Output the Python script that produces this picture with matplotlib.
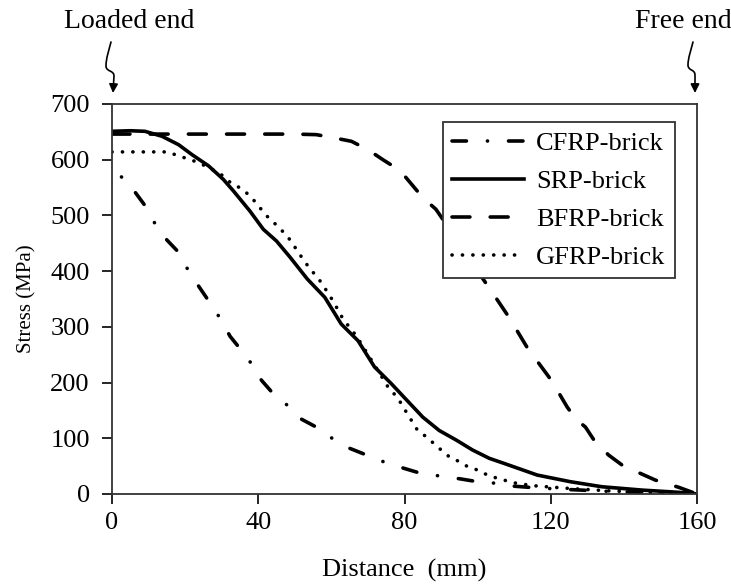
import matplotlib
matplotlib.use("Agg")
import matplotlib.pyplot as plt
from matplotlib.path import Path
from matplotlib.patches import FancyArrowPatch
from matplotlib.lines import Line2D

plt.rcParams['font.family'] = ['Liberation Serif', 'DejaVu Serif']
plt.rcParams['lines.scale_dashes'] = False

# distance along bond (mm) and stress (MPa)
cfrp_x = [0, 2.6, 6.4, 9.1, 11.7, 15, 18.2, 20.8, 23.9, 26.4, 29.5, 32.3, 35, 37.9,
          40.9, 43.7, 48, 51.9, 55.9, 60.2, 65, 69.6, 74.6, 79.9, 84.5, 90, 95.4,
          100, 105.5, 110, 116, 125, 135, 145, 160]
cfrp_y = [588, 569, 541, 517, 486, 456, 434, 402, 371, 347, 316, 283, 261, 236,
          204, 183, 159, 134, 120, 100, 82, 70, 57, 46, 37, 32, 27,
          22, 19, 14, 11, 8, 5, 3, 0]

srp_x = [0, 5, 9, 13.7, 18.2, 21.9, 26.4, 30.4, 33.2, 37.7, 41.4, 45, 48.7, 53.4,
         58.2, 62.7, 67.3, 71.8, 76.4, 80.4, 85, 89.5, 94.1, 98.6, 103.2, 107.2,
         116.3, 125.4, 134, 145, 155, 160]
srp_y = [651, 652, 651, 642, 627, 609, 589, 565, 544, 508, 475, 454, 425, 386,
         353, 305, 275, 228, 198, 170, 138, 114, 97, 79, 64, 55,
         34, 22, 13, 7, 3, 0]

bfrp_x = [0, 10, 20, 30, 40, 50, 55.9, 60.9, 65.5, 70, 74.1, 78.2, 80.4, 85, 88.6,
          95, 100, 104.3, 108.6, 110.8, 114, 116.8, 119.5, 121.8, 124.5, 126.8,
          129.5, 131.8, 135.8, 139.5, 144.5, 148.6, 155, 160]
bfrp_y = [646, 646, 646, 646, 646, 646, 645, 639, 633, 618, 600, 583, 568, 532, 511,
          450, 400, 359, 317, 293, 258, 234, 210, 186, 156, 135,
          120, 97, 70, 52, 37, 25, 12, 0]

gfrp_x = [0, 5, 10, 15, 17.8, 20.5, 23.2, 26.8, 30.4, 32.7, 35.2, 37.6, 39.6, 41.4,
          43.2, 45.3, 47.3, 49.1, 50.7, 53.5, 57.2, 60.4, 63.2, 66.8, 72.7, 75.5,
          78.2, 80.4, 83.6, 85.9, 89.5, 92.2, 95, 97.3, 100, 102.7, 105.5, 110,
          115, 125, 135, 145, 160]
gfrp_y = [614, 614, 614, 614, 608, 602, 596, 585, 571, 557, 549, 536, 521, 506,
          493, 481, 467, 453, 436, 410, 380, 347, 314, 284, 222, 192,
          172, 148, 114, 103, 82, 67, 58, 49, 43, 34, 28, 20,
          15, 10, 6, 3, 0]

labels = ['CFRP-brick', 'SRP-brick', 'BFRP-brick', 'GFRP-brick']
x_ticks = [0, 40, 80, 120, 160]
y_ticks = [0, 100, 200, 300, 400, 500, 600, 700]

W, H = 731, 588
fig = plt.figure(figsize=(W / 100, H / 100), dpi=100)
ax = fig.add_axes([112 / W, 1 - 494 / H, 585 / W, 390 / H])

lw = 2.6
dashdot = (10.4, 15.1, 0.1, 15.1)
dash = (12.9, 14.6)
dot = (0.1, 7.4)

ax.plot(cfrp_x, cfrp_y, color='k', lw=lw, dash_capstyle='round',
        linestyle=(15.3, dashdot))
ax.plot(srp_x, srp_y, color='k', lw=lw, solid_capstyle='round')
ax.plot(bfrp_x, bfrp_y, color='k', lw=lw, dash_capstyle='round', linestyle=(0, dash))
ax.plot(gfrp_x, gfrp_y, color='k', lw=lw, dash_capstyle='round', linestyle=(0, dot))

ax.set_xlim(0, 160)
ax.set_ylim(0, 700)
ax.set_xticks(x_ticks)
ax.set_yticks(y_ticks)
ax.tick_params(direction='out', length=7, width=1.2, labelsize=19, colors='k')
ax.tick_params(axis='y', pad=9)
ax.tick_params(axis='x', pad=6)
for s in ax.spines.values():
    s.set_linewidth(1.3)
    s.set_color('#333333')

ax.set_xlabel('Distance  (mm)', fontsize=19, labelpad=18)
ax.set_ylabel('Stress (MPa)', fontsize=15, labelpad=10)

handles = [Line2D([], [], color='k', lw=lw, dash_capstyle='round', linestyle=(0, dashdot)),
           Line2D([], [], color='k', lw=lw),
           Line2D([], [], color='k', lw=lw, dash_capstyle='round', linestyle=(0, dash)),
           Line2D([], [], color='k', lw=lw, dash_capstyle='round', linestyle=(0, dot))]
leg = ax.legend(handles, labels, loc='upper right', bbox_to_anchor=(0.962, 0.953),
                borderaxespad=0, fontsize=19, handlelength=2.75, handletextpad=0.45,
                labelspacing=0.55, borderpad=0.35, fancybox=False, framealpha=1,
                edgecolor='#333333')
leg.get_frame().set_linewidth(1.3)

# end annotations with squiggly arrows (figure pixels, y measured from top)
def squiggle(pts):
    verts = [(x / W, 1 - y / H) for x, y in pts]
    codes = [Path.MOVETO, Path.CURVE4, Path.CURVE4, Path.CURVE4,
             Path.CURVE4, Path.CURVE4, Path.CURVE4, Path.LINETO]
    arr = FancyArrowPatch(path=Path(verts, codes), arrowstyle='-|>', mutation_scale=13,
                          color='k', lw=1.2, transform=fig.transFigure)
    fig.patches.append(arr)

squiggle([(111, 42), (109, 50), (106, 58), (106, 66),
          (106, 72), (114, 70), (114, 76), (113, 93)])
squiggle([(693, 42), (691, 50), (688, 58), (688, 65),
          (688, 71), (695, 69), (695, 75), (695, 93)])

fig.text(129 / W, 1 - 22 / H, 'Loaded end', fontsize=20, ha='center', va='center')
fig.text(683 / W, 1 - 22 / H, 'Free end', fontsize=20, ha='center', va='center')

fig.savefig('out.png', dpi=100)
